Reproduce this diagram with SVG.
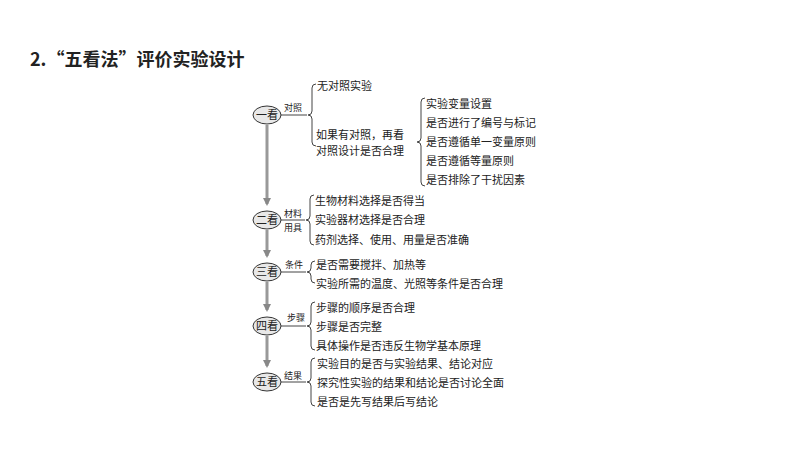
<svg xmlns="http://www.w3.org/2000/svg" width="800" height="450" viewBox="0 0 800 450">
<defs>
<marker id="ah" markerWidth="8" markerHeight="8" refX="6" refY="4" orient="auto" markerUnits="userSpaceOnUse"><path d="M0,0 L8,4 L0,8 Z" fill="#888"/></marker>
<style>
text{font-family:"Noto Sans CJK SC","Liberation Serif",serif;fill:#222}
.t{font-size:11px}
.s{font-size:9px}
.n{font-size:11px}
.e{fill:#e8e8e8;stroke:#333;stroke-width:1}
.b{fill:none;stroke:#444;stroke-width:1}
.a{stroke:#999;stroke-width:3;fill:none}
</style>
</defs>
<rect width="800" height="450" fill="#fff"/>
<text x="30" y="66" style="font-size:18px;font-weight:bold;font-family:'Noto Sans CJK SC',sans-serif">2.“五看法”评价实验设计</text>
<g id="connectors">
<line class="a" x1="267" y1="125" x2="267" y2="204" marker-end="url(#ah)"/>
<line class="a" x1="267" y1="230" x2="267" y2="256" marker-end="url(#ah)"/>
<line class="a" x1="267" y1="282" x2="267" y2="310" marker-end="url(#ah)"/>
<line class="a" x1="267" y1="336" x2="267" y2="366" marker-end="url(#ah)"/>
<path class="b" d="M281,115 H307"/>
<path class="b" d="M281,220 H305"/>
<path class="b" d="M281,272 H306"/>
<path class="b" d="M281,326 H306"/>
<path class="b" d="M281,382 H306"/>
</g>
<g id="n1">
<ellipse class="e" cx="267" cy="115" rx="14" ry="9"/><text class="n" x="267" y="119" text-anchor="middle">一看</text>
<text class="s" x="284" y="111">对照</text>
<path class="b" d="M316,84 q-4,0 -4,4 v23 q0,4 -4,4 q4,0 4,4 v23 q0,4 4,4"/>
<text class="t" x="317" y="90">无对照实验</text>
<text class="t" x="316" y="139">如果有对照，再看</text>
<text class="t" x="316" y="155">对照设计是否合理</text>
<path class="b" d="M425,98 q-4,0 -4,4 v36 q0,4 -4,4 q4,0 4,4 v36 q0,4 4,4"/>
<text class="t" x="426" y="108">实验变量设置</text>
<text class="t" x="426" y="127">是否进行了编号与标记</text>
<text class="t" x="426" y="146">是否遵循单一变量原则</text>
<text class="t" x="426" y="165">是否遵循等量原则</text>
<text class="t" x="426" y="184">是否排除了干扰因素</text>
</g>
<g id="n2">
<ellipse class="e" cx="267" cy="220" rx="14" ry="9"/><text class="n" x="267" y="224" text-anchor="middle">二看</text>
<text class="s" x="284" y="217">材料</text><text class="s" x="284" y="231">用具</text>
<path class="b" d="M314,195 q-4,0 -4,4 v17 q0,4 -4,4 q4,0 4,4 v17 q0,4 4,4"/>
<text class="t" x="315" y="205">生物材料选择是否得当</text>
<text class="t" x="315" y="224">实验器材选择是否合理</text>
<text class="t" x="315" y="244">药剂选择、使用、用量是否准确</text>
</g>
<g id="n3">
<ellipse class="e" cx="267" cy="272" rx="14" ry="9"/><text class="n" x="267" y="276" text-anchor="middle">三看</text>
<text class="s" x="285" y="268">条件</text>
<path class="b" d="M315,261 q-4,0 -4,4 v3 q0,4 -4,4 q4,0 4,4 v3 q0,4 4,4"/>
<text class="t" x="316" y="269">是否需要搅拌、加热等</text>
<text class="t" x="316" y="288">实验所需的温度、光照等条件是否合理</text>
</g>
<g id="n4">
<ellipse class="e" cx="267" cy="326" rx="14" ry="9"/><text class="n" x="267" y="330" text-anchor="middle">四看</text>
<text class="s" x="287" y="321">步骤</text>
<path class="b" d="M315,302 q-4,0 -4,4 v16 q0,4 -4,4 q4,0 4,4 v16 q0,4 4,4"/>
<text class="t" x="316" y="312">步骤的顺序是否合理</text>
<text class="t" x="316" y="331">步骤是否完整</text>
<text class="t" x="316" y="350">具体操作是否违反生物学基本原理</text>
</g>
<g id="n5">
<ellipse class="e" cx="267" cy="382" rx="14" ry="9"/><text class="n" x="267" y="386" text-anchor="middle">五看</text>
<text class="s" x="284" y="379">结果</text>
<path class="b" d="M315,358 q-4,0 -4,4 v16 q0,4 -4,4 q4,0 4,4 v16 q0,4 4,4"/>
<text class="t" x="317" y="368">实验目的是否与实验结果、结论对应</text>
<text class="t" x="317" y="387">探究性实验的结果和结论是否讨论全面</text>
<text class="t" x="317" y="406">是否是先写结果后写结论</text>
</g>
</svg>
